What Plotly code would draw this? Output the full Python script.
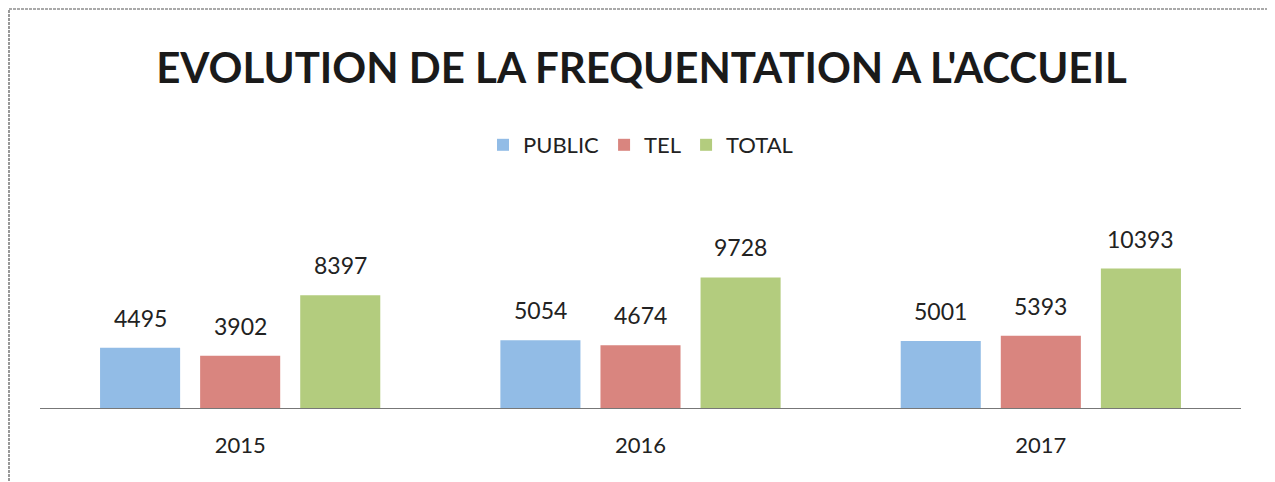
import plotly.graph_objects as go

years = ["2015", "2016", "2017"]
series_names = ["PUBLIC", "TEL", "TOTAL"]
public = [4495, 5054, 5001]
tel = [3902, 4674, 5393]
total = [8397, 9728, 10393]
colors = ["#92BCE6", "#D9857F", "#B3CC7E"]

FONT = "Lato, sans-serif"
values = [public, tel, total]
xpos = list(range(len(years)))
fig = go.Figure()
for name, vals, col in zip(series_names, values, colors):
    fig.add_trace(go.Bar(x=xpos, y=vals, name=name, marker=dict(color=col, line=dict(width=0))))

# data labels above bars
offsets = [-100, 0, 100]
for vals, off in zip(values, offsets):
    for xi, v in zip(xpos, vals):
        fig.add_annotation(x=xi, y=v, text=str(v), showarrow=False, xshift=off,
                           yshift=14, yanchor="bottom", xanchor="center",
                           font=dict(family=FONT, size=23, color="#222"))

W, H = 1267, 474
T, B = 192, 74
PH = H - T - B
fig.update_layout(
    width=W, height=H,
    margin=dict(l=32, r=34, t=T, b=B),
    paper_bgcolor="white", plot_bgcolor="white",
    barmode="group", bargap=0.25, bargroupgap=0.2,
    title=dict(text="<b>EVOLUTION DE LA FREQUENTATION A L'ACCUEIL</b>", x=0.5, xanchor="center",
               y=1 - 60 / H, yanchor="middle",
               font=dict(family=FONT, size=42, color="#1a1a1a")),
    legend=dict(orientation="h", x=0.5, xanchor="center", y=(H - B - 137) / PH, yanchor="middle",
                font=dict(family=FONT, size=22, color="#222"),
                traceorder="normal"),
    showlegend=True,
    xaxis=dict(range=[-0.5, len(years) - 0.5], tickvals=xpos, ticktext=years,
               showline=True, linecolor="#777", linewidth=1, showgrid=False, zeroline=False, ticks="",
               tickfont=dict(family=FONT, size=22, color="#222"),
               ticklabelstandoff=18),
    yaxis=dict(range=[0, 15500], visible=False, showgrid=False, zeroline=False),
    shapes=[dict(type="rect", xref="paper", yref="paper",
                 x0=-31 / (W - 66), x1=(1260 - 32) / (W - 66),
                 y0=(H - B - 490) / PH, y1=(H - B - 1) / PH,
                 line=dict(color="#555", width=1.2, dash="3px,1px"))],
)

fig.write_html("out.html")
